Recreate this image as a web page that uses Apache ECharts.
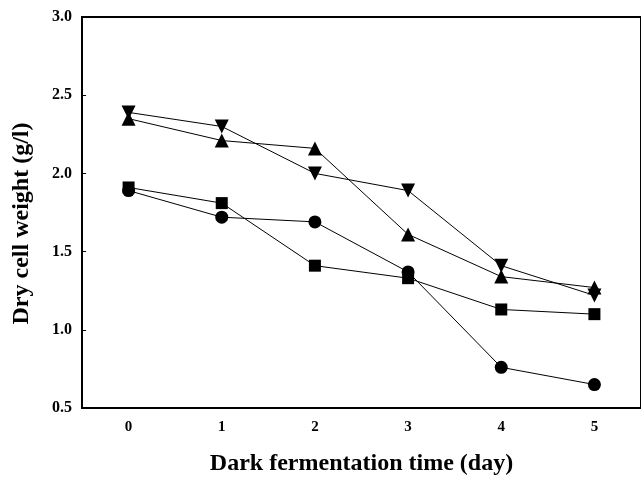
<!DOCTYPE html>
<html>
<head>
<meta charset="utf-8">
<script src="https://cdn.jsdelivr.net/npm/echarts@6/dist/echarts.min.js"></script>
<style>
  html, body { margin: 0; padding: 0; background: #fff; }
  #chart { width: 641px; height: 483px; }
</style>
</head>
<body>
<div id="chart"></div>
<script>
// days of dark fermentation
const days = ['0', '1', '2', '3', '4', '5'];
// dry cell weight (g/l)
const circleVals = [1.89, 1.72, 1.69, 1.37, 0.76, 0.65];
const squareVals = [1.91, 1.81, 1.41, 1.33, 1.13, 1.10];
const triUpVals = [2.35, 2.21, 2.16, 1.61, 1.34, 1.27];
const triDownVals = [2.39, 2.30, 2.00, 1.89, 1.41, 1.22];

const font = 'Liberation Serif';

const chart = echarts.init(document.getElementById('chart'));

function line(name, data, symbol, size) {
  return {
    name: name,
    type: 'line',
    data: data,
    symbol: symbol,
    symbolSize: size,
    color: '#000',
    lineStyle: { color: '#000', width: 1 },
    itemStyle: { color: '#000' },
    animation: false
  };
}

const option = {
  backgroundColor: '#fff',
  grid: {
    left: 82, right: -3, top: 17, bottom: 75,
    show: true, borderColor: '#000', borderWidth: 2
  },
  xAxis: {
    type: 'category',
    data: days,
    boundaryGap: true,
    name: 'Dark fermentation time (day)',
    nameLocation: 'middle',
    nameGap: 44,
    nameTextStyle: { fontFamily: font, fontWeight: 'bold', fontSize: 24, color: '#000' },
    axisLine: { lineStyle: { color: '#000', width: 2 } },
    axisTick: { inside: true, alignWithLabel: true, length: 4, lineStyle: { color: '#000' } },
    axisLabel: { fontFamily: font, fontWeight: 'bold', fontSize: 15, color: '#000', margin: 12 },
    splitLine: { show: false }
  },
  yAxis: {
    type: 'value',
    min: 0.5, max: 3.0, interval: 0.5,
    name: 'Dry cell weight (g/l)',
    nameLocation: 'middle',
    nameGap: 48,
    nameTextStyle: {
      fontFamily: font, fontWeight: 'bold', fontSize: 24, color: '#000',
      padding: [0, 22, 0, 0]
    },
    axisLine: { show: true, lineStyle: { color: '#000', width: 2 } },
    axisTick: { show: true, inside: true, length: 4, lineStyle: { color: '#000' } },
    axisLabel: {
      fontFamily: font, fontWeight: 'bold', fontSize: 16, color: '#000', margin: 10,
      formatter: v => v.toFixed(1)
    },
    splitLine: { show: false }
  },
  series: [
    line('circle', circleVals, 'circle', 13),
    line('square', squareVals, 'rect', 12),
    line('up', triUpVals, 'triangle', 14),
    line('down', triDownVals, 'path://M0,0 L10,0 L5,9 Z', 14)
  ]
};
chart.setOption(option);
</script>
</body>
</html>
